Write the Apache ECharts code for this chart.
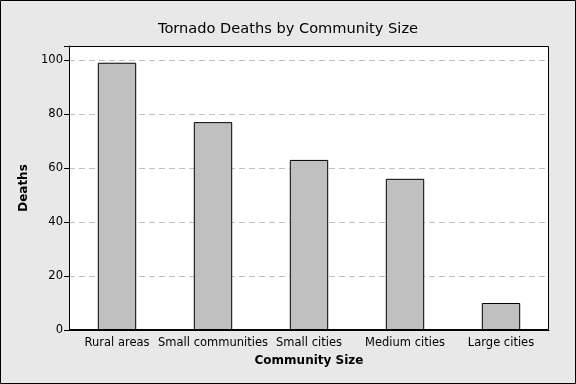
<!DOCTYPE html>
<html><head><meta charset="utf-8">
<script src="https://cdn.jsdelivr.net/npm/echarts@6/dist/echarts.min.js"></script>
<style>html,body{margin:0;padding:0;background:#e8e8e8}#c{width:576px;height:384px}</style>
</head><body><div id="c"></div>
<script>
const categories = ['Rural areas','Small communities','Small cities','Medium cities','Large cities'];
const deaths = [99, 77, 63, 56, 10];
const yTicks = [0, 20, 40, 60, 80, 100];

const chart = echarts.init(document.getElementById('c'), null, {renderer:'canvas'});
const font = 'DejaVu Sans';
const L = 69, T = 46, R = 27, B = 54, W = 576, H = 384;
chart.setOption({
  backgroundColor: '#e8e8e8',
  animation: false,
  title: {
    text: 'Tornado Deaths by Community Size',
    left: 'center', top: 17,
    textStyle: {fontFamily: font, fontSize: 14.6, fontWeight: 'normal', color: '#000'}
  },
  graphic: [{
    type: 'rect', z: 100,
    shape: {x: 0.5, y: 0.5, width: W - 1, height: H - 1},
    style: {fill: 'none', stroke: '#000', lineWidth: 1}, silent: true
  }, {
    type: 'rect', z: 100,
    shape: {x: L + 0.5, y: T + 0.5, width: W - L - R - 1, height: H - T - B - 1},
    style: {fill: 'none', stroke: '#000', lineWidth: 1}, silent: true
  }],
  grid: {
    left: L, right: R, top: T, bottom: B,
    show: true, backgroundColor: '#fff', borderWidth: 0
  },
  xAxis: {
    type: 'category', data: categories,
    name: 'Community Size', nameLocation: 'middle', nameGap: 25,
    nameTextStyle: {fontFamily: font, fontSize: 12, fontWeight: 'bold', color: '#000'},
    axisLine: {lineStyle: {color: '#000'}},
    axisTick: {alignWithLabel: true, length: 4, lineStyle: {color: '#000'}},
    axisLabel: {fontFamily: font, fontSize: 11.5, color: '#000', margin: 7, interval: 0}
  },
  yAxis: {
    type: 'value', min: 0, max: 105.2, interval: 20,
    name: 'Deaths', nameLocation: 'middle', nameGap: 39,
    nameTextStyle: {fontFamily: font, fontSize: 12, fontWeight: 'bold', color: '#000'},
    axisLine: {show: true, lineStyle: {color: '#000'}},
    axisTick: {show: true, length: 5, lineStyle: {color: '#000'}},
    axisLabel: {fontFamily: font, fontSize: 11.5, color: '#000', margin: 6,
      formatter: v => yTicks.includes(v) ? String(v) : ''},
    splitLine: {show: true, lineStyle: {color: '#c0c0c0', type: [6, 4]}}
  },
  series: [{
    type: 'bar', data: deaths, barWidth: '40%',
    itemStyle: {color: '#c0c0c0', borderColor: '#000', borderWidth: 1}
  }]
});
</script></body></html>
